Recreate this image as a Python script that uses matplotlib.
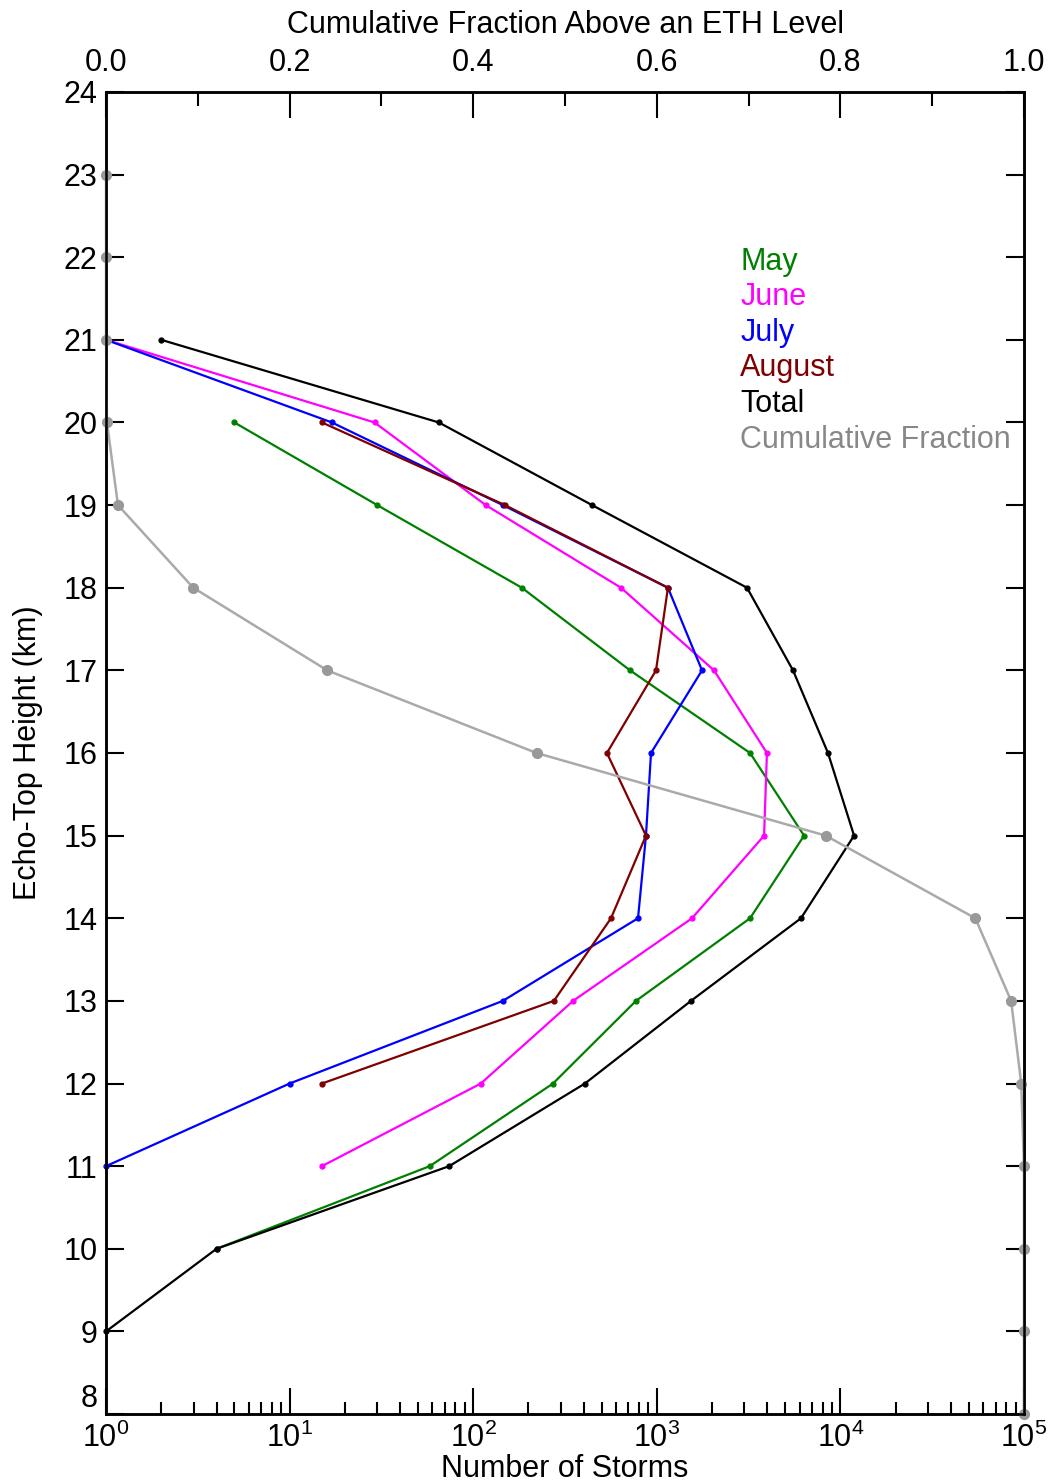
# Echo-top height distribution by month, with cumulative fraction on top axis

import matplotlib
matplotlib.use('Agg')
import matplotlib.pyplot as plt
import numpy as np

plt.rcParams['font.family'] = ['Liberation Sans', 'DejaVu Sans']
plt.rcParams['mathtext.fontset'] = 'custom'
plt.rcParams['mathtext.rm'] = 'Liberation Sans'

# heights (km) and storm counts
may_h = [20, 19, 18, 17, 16, 15, 14, 13, 12, 11, 10]
may_n = [5, 30, 184, 715, 3220, 6340, 3220, 770, 272, 58, 4]

june_h = [21, 20, 19, 18, 17, 16, 15, 14, 13, 12, 11]
june_n = [1, 29, 117, 638, 2050, 3980, 3840, 1555, 350, 110, 15]

july_h = [21, 20, 19, 18, 17, 16, 15, 14, 13, 12, 11]
july_n = [1, 17, 145, 1150, 1763, 930, 873, 790, 145, 10, 1]

aug_h = [20, 19, 18, 17, 16, 15, 14, 13, 12]
aug_n = [15, 149, 1150, 990, 535, 873, 563, 275, 15]

total_h = [21, 20, 19, 18, 17, 16, 15, 14, 13, 12, 11, 10, 9]
total_n = [2, 65, 444, 3100, 5520, 8560, 11870, 6100, 1535, 406, 74, 4, 1]

# cumulative fraction above each height
cum_h = [23, 22, 21, 20, 19, 18, 17, 16, 15, 14, 13, 12, 11, 10, 9, 8]
cum_f = [0.0, 0.0, 0.0, 0.001, 0.013, 0.095, 0.241, 0.469, 0.784, 0.947,
         0.986, 0.997, 1.0, 1.0, 1.0, 1.0]

fs = 22

fig = plt.figure(figsize=(10.55, 14.83), dpi=100)
ax = fig.add_axes([0.1005, 0.0465, 0.8701, 0.8915])

series = [
    (may_n, may_h, '#008000'),
    (june_n, june_h, '#ff00ff'),
    (july_n, july_h, '#0000ff'),
    (aug_n, aug_h, '#800000'),
    (total_n, total_h, 'black'),
]
for n, h, c in series:
    ax.plot(n, h, color=c, lw=1.6, marker='o', ms=3.5, mec=c, mfc=c, clip_on=False)

ax.set_xscale('log')
ax.set_xlim(1, 1e5)
ax.set_ylim(8, 24)
ax.set_yticks(np.arange(8, 25, 1))
ax.set_xticks([1, 10, 100, 1000, 1e4, 1e5])
ax.set_xticklabels([r'$\mathregular{10^{%d}}$' % i for i in range(6)])
ax.tick_params(axis='x', which='major', direction='in', length=19, width=1.5,
               top=False, labelsize=fs, pad=6)
ax.tick_params(axis='x', which='minor', direction='in', length=9, width=1.5, top=False)
ax.tick_params(axis='y', which='major', direction='in', length=13, width=1.5,
               right=True, labelsize=fs, pad=6)
ax.tick_params(axis='y', which='minor', left=False, right=False)
# lift the bottom "8" so it clears the 10^0 label
ax.get_yticklabels()[0].set_verticalalignment('bottom')
for s in ax.spines.values():
    s.set_linewidth(1.8)

ax.set_xlabel('Number of Storms', fontsize=fs, labelpad=0)
ax.set_ylabel('Echo-Top Height (km)', fontsize=fs, labelpad=15)

# top axis for the cumulative fraction
ax2 = ax.twiny()
ax2.plot(cum_f, cum_h, color='#aaaaaa', lw=1.8, marker='o', ms=7,
         mfc='#999999', mec='#999999', clip_on=False)
ax2.set_xlim(0, 1)
ax2.set_xticks(np.arange(0, 1.01, 0.2))
ax2.set_xticks(np.arange(0, 1.01, 0.1), minor=True)
ax2.set_xticklabels(['0.0', '0.2', '0.4', '0.6', '0.8', '1.0'])
ax2.tick_params(axis='x', which='major', direction='in', length=19, width=1.5,
                labelsize=fs, pad=10)
ax2.tick_params(axis='x', which='minor', direction='in', length=10, width=1.5)
ax2.set_xlabel('Cumulative Fraction Above an ETH Level', fontsize=fs, labelpad=11)
for s in ax2.spines.values():
    s.set_linewidth(1.8)

# coloured text legend
labels = ['May', 'June', 'July', 'August', 'Total', 'Cumulative Fraction']
colors = ['#008000', '#ff00ff', '#0000ff', '#800000', 'black', '#888888']
for i, (lab, c) in enumerate(zip(labels, colors)):
    ax.text(0.691, 0.8716 - i * 0.0269, lab, color=c, fontsize=fs,
            transform=ax.transAxes, va='center', ha='left')

fig.savefig('out.png', dpi=100)
